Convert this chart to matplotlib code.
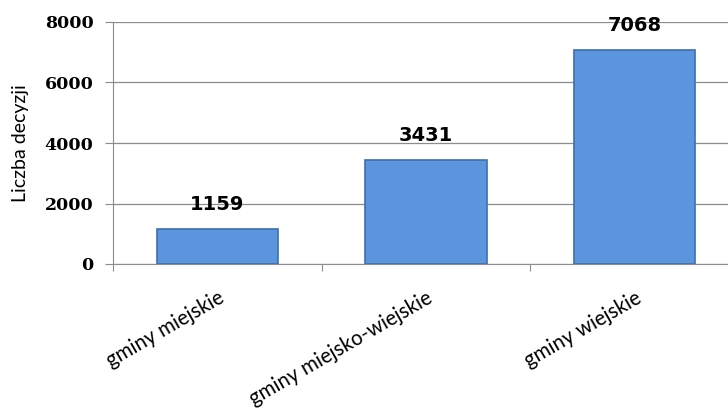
import numpy as np
import matplotlib.pyplot as plt

categories = ['gminy miejskie', 'gminy miejsko-wiejskie', 'gminy wiejskie']
decisions = [1159, 3431, 7068]

fig = plt.figure(figsize=(7.28, 4.11), dpi=100)
ax = fig.add_axes([113/728, (411-264)/411, 626/728, 242/411])

x = np.arange(len(categories))
ax.bar(x, decisions, width=0.58, color='#5B95DE', edgecolor='#3F6EAE',
       linewidth=1.2, zorder=3)

for xi, v in zip(x, decisions):
    ax.annotate(f'{v}', (xi, v), xytext=(0, 11), textcoords='offset points',
                ha='center', va='bottom', fontsize=14, fontweight='bold',
                family='DejaVu Sans')

ax.set_xlim(-0.5, 2.5)
ax.set_ylim(0, 8000)
ax.set_yticks(np.arange(0, 8001, 2000))
ax.grid(axis='y', color='#8c8c8c', linewidth=0.9, zorder=0)

for s in ['top', 'right']:
    ax.spines[s].set_visible(False)
for s in ['left', 'bottom']:
    ax.spines[s].set_color('#8c8c8c')

# tick marks between categories, labels at the bar centres
ax.set_xticks([-0.5, 0.5, 1.5, 2.5], minor=False)
ax.set_xticklabels([])
ax.set_xticks(x, minor=True)
ax.set_xticklabels(categories, minor=True, rotation=30, ha='right',
                   rotation_mode='anchor', fontsize=14.8, family='Lato')
ax.tick_params(axis='x', which='minor', length=0, pad=17)
ax.tick_params(axis='x', which='major', length=5, color='#8c8c8c')
ax.tick_params(axis='y', length=6, color='#8c8c8c', pad=8)
for lab in ax.get_yticklabels():
    lab.set_family('DejaVu Serif')
    lab.set_fontweight('bold')
    lab.set_fontsize(12.5)

ax.set_ylabel('Liczba decyzji', fontsize=14, family='Lato', labelpad=11)

fig.savefig('out.png', dpi=100)
